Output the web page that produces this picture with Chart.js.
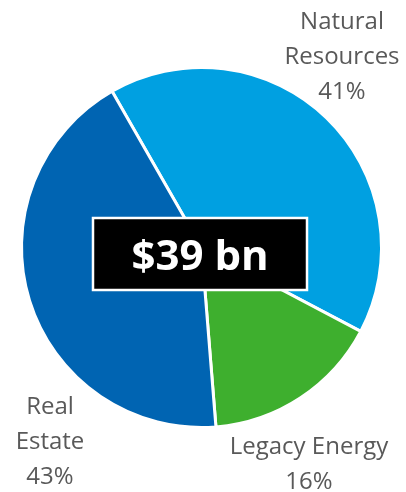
<!DOCTYPE html>
<html>
<head>
<meta charset="utf-8">
<script src="https://cdn.jsdelivr.net/npm/chart.js@4"></script>
<style>
    html, body { margin: 0; padding: 0; background: #fff; }
    #wrap { width: 406px; height: 492px; position: relative; }
</style>
</head>
<body>
<div id="wrap"><canvas id="pieChart"></canvas></div>
<script>
// Chart data
const categories = ['Natural Resources', 'Legacy Energy', 'Real Estate'];
const shares = [41, 16, 43];
const labelLines = [['Natural', 'Resources', '41%'], ['Legacy Energy', '16%'], ['Real', 'Estate', '43%']];
const totalLabel = '$39 bn';

const sliceColors = ['#00A0E1', '#3EAF2E', '#0064B2'];

// where each label block sits (centre x, first baseline y)
const labelAnchors = [
    { x: 342, y: 29 },
    { x: 309, y: 454 },
    { x: 50, y: 414 }
];

// Outside labels + centre total box
const pieLabels = {
    id: 'pieLabels',
    afterDraw(chart) {
        const ctx = chart.ctx;
        ctx.save();
        ctx.font = '24px "Open Sans", sans-serif';
        ctx.fillStyle = '#595959';
        ctx.textAlign = 'center';
        ctx.textBaseline = 'alphabetic';
        labelLines.forEach((lines, i) => {
            const a = labelAnchors[i];
            lines.forEach((t, j) => ctx.fillText(t, a.x, a.y + j * 35));
        });

        // centre box
        const arc = chart.getDatasetMeta(0).data[0];
        const cx = arc.x - 1.5;
        const cy = arc.y + 6.5;
        const w = 214, h = 72;
        ctx.fillStyle = '#000';
        ctx.fillRect(cx - w / 2, cy - h / 2, w, h);
        ctx.strokeStyle = '#fff';
        ctx.lineWidth = 2.5;
        ctx.strokeRect(cx - w / 2, cy - h / 2, w, h);
        ctx.fillStyle = '#fff';
        ctx.font = 'bold 42px "Open Sans", sans-serif';
        ctx.fillText(totalLabel, cx, cy + 16);
        ctx.restore();
    }
};

new Chart(document.getElementById('pieChart'), {
    type: 'pie',
    data: {
        labels: categories,
        datasets: [{
            data: shares,
            backgroundColor: sliceColors,
            borderColor: '#fff',
            borderWidth: 3
        }]
    },
    options: {
        responsive: true,
        maintainAspectRatio: false,
        animation: false,
        rotation: -29.8,
        radius: 180,
        layout: { padding: { left: 23, right: 26, top: 69, bottom: 66 } },
        plugins: {
            legend: { display: false },
            tooltip: { enabled: false }
        }
    },
    plugins: [pieLabels]
});
</script>
</body>
</html>
